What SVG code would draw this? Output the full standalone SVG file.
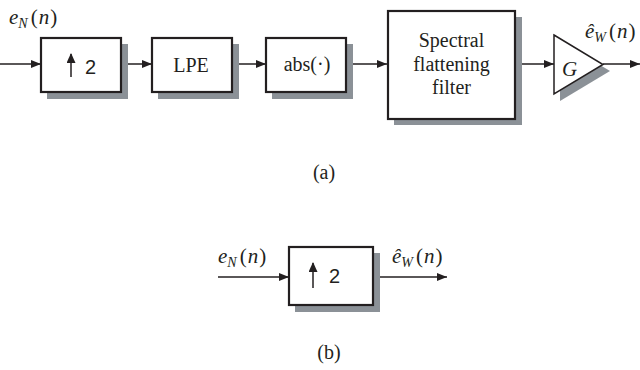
<svg xmlns="http://www.w3.org/2000/svg" width="640" height="370" viewBox="0 0 640 370">
<style>
.box{fill:#fff;stroke:#231f20;stroke-width:2.2}
.sh{fill:#8b9197}
.ln{stroke:#231f20;stroke-width:1.5;fill:none}
.t{font-family:"Liberation Serif",serif;font-size:20px;fill:#231f20;text-anchor:middle}
.m{font-family:"Liberation Serif",serif;font-style:italic;font-size:21px;fill:#231f20}
.p{font-style:normal}
.sub{font-size:14px}
.s{font-family:"Liberation Sans",sans-serif;font-size:20px;fill:#231f20}
</style>
<defs>
<marker id="ah" markerWidth="10" markerHeight="8" refX="10" refY="4" orient="auto" markerUnits="userSpaceOnUse">
<path d="M0,0 L10,4 L0,8 Z" fill="#231f20"/>
</marker>
<marker id="up" markerWidth="10" markerHeight="10" refX="9" refY="4.5" orient="auto" markerUnits="userSpaceOnUse">
<path d="M0,0 L10,4.5 L0,9 Z" fill="#231f20"/>
</marker>
</defs>
<g id="connectors">
<line class="ln" x1="0" y1="64" x2="41" y2="64" marker-end="url(#ah)"/>
<line class="ln" x1="121" y1="64" x2="152" y2="64" marker-end="url(#ah)"/>
<line class="ln" x1="232" y1="64" x2="266" y2="64" marker-end="url(#ah)"/>
<line class="ln" x1="346" y1="64" x2="387" y2="64" marker-end="url(#ah)"/>
<line class="ln" x1="515" y1="64" x2="554" y2="64" marker-end="url(#ah)"/>
<line class="ln" x1="603" y1="64" x2="640" y2="64" marker-end="url(#ah)"/>
<line class="ln" x1="218" y1="277" x2="289" y2="277" marker-end="url(#ah)"/>
<line class="ln" x1="373" y1="277" x2="447" y2="277" marker-end="url(#ah)"/>
</g>
<g id="up1">
<rect class="sh" x="47" y="44" width="81" height="55"/>
<rect class="box" x="41" y="38" width="80" height="54"/>
<line class="ln" stroke-width="2" x1="71" y1="77" x2="71" y2="54" marker-end="url(#up)"/>
<text class="s" x="85" y="74">2</text>
</g>
<g id="lpe">
<rect class="sh" x="158" y="44" width="81" height="55"/>
<rect class="box" x="152" y="38" width="80" height="54"/>
<text class="t" x="191" y="72">LPE</text>
</g>
<g id="abs">
<rect class="sh" x="272" y="44" width="81" height="55"/>
<rect class="box" x="266" y="38" width="80" height="54"/>
<text class="t" x="307" y="71">abs(·)</text>
</g>
<g id="sff">
<rect class="sh" x="394" y="17" width="128" height="108"/>
<rect class="box" x="388" y="11" width="127" height="108"/>
<text class="t" x="451.5" y="47" font-size="21">Spectral</text>
<text class="t" x="451.5" y="71" font-size="21">flattening</text>
<text class="t" x="451.5" y="94" font-size="21">filter</text>
</g>
<g id="gain">
<polygon class="sh" points="560,41 610,71 560,101"/>
<polygon fill="#fff" stroke="#231f20" stroke-width="1.5" points="554,35 603,64.5 554,94"/>
<text class="m" x="562" y="76" font-size="20">G</text>
</g>
<g id="labels-a">
<text class="m" x="9" y="24">e<tspan class="sub" dy="4">N</tspan><tspan class="p" dy="-4" dx="3">(</tspan><tspan dx="1">n</tspan><tspan class="p" dx="1">)</tspan></text>
<text class="m" x="585" y="38">ê<tspan class="sub" dy="4">W</tspan><tspan class="p" dy="-4" dx="3">(</tspan><tspan dx="1">n</tspan><tspan class="p" dx="1">)</tspan></text>
<text class="t" x="324" y="179" font-size="17">(a)</text>
</g>
<g id="up2">
<rect class="sh" x="295" y="253" width="85" height="59"/>
<rect class="box" x="289" y="247" width="84" height="58"/>
<line class="ln" stroke-width="2" x1="313" y1="288" x2="313" y2="263" marker-end="url(#up)"/>
<text class="s" x="329" y="283">2</text>
</g>
<g id="labels-b">
<text class="m" x="218" y="263">e<tspan class="sub" dy="4">N</tspan><tspan class="p" dy="-4" dx="3">(</tspan><tspan dx="1">n</tspan><tspan class="p" dx="1">)</tspan></text>
<text class="m" x="392" y="263">ê<tspan class="sub" dy="4">W</tspan><tspan class="p" dy="-4" dx="3">(</tspan><tspan dx="1">n</tspan><tspan class="p" dx="1">)</tspan></text>
<text class="t" x="329" y="359" font-size="17">(b)</text>
</g>
</svg>
